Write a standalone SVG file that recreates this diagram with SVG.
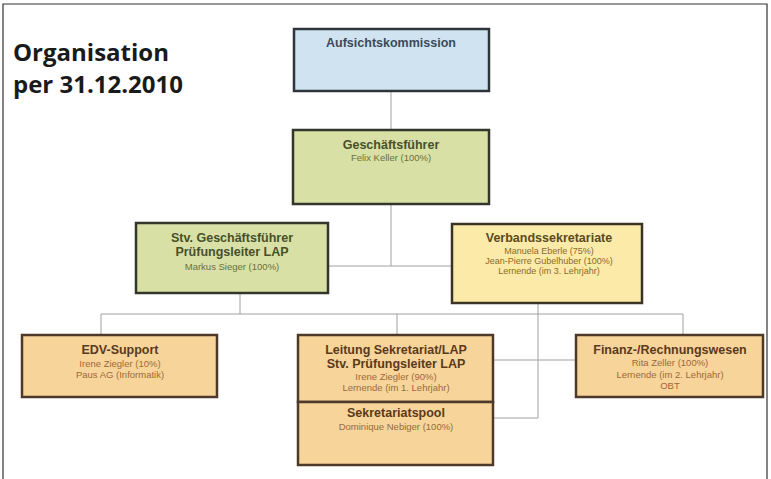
<svg xmlns="http://www.w3.org/2000/svg" width="771" height="479" viewBox="0 0 771 479">
<style>
.frame{fill:none;stroke:#333;stroke-width:1.2}
.ttl{font-family:"Open Sans","Noto Sans",sans-serif;font-weight:bold;font-size:24px;fill:#1a1a1a}
.box{stroke-width:2.5}
.blue{fill:#d0e3f1;stroke:#2e3438}
.green{fill:#d8e0a6;stroke:#33362a}
.yellow{fill:#fbeaa8;stroke:#3a3424}
.orange{fill:#f7d49a;stroke:#4e3a28}
.h{font-family:"Liberation Sans",Arial,sans-serif;font-weight:bold;font-size:12.5px;text-anchor:middle}
.s{font-family:"Liberation Sans",Arial,sans-serif;font-size:9.5px;text-anchor:middle}
.s9{font-size:9px}
.hb{fill:#3c4a5a}
.hg{fill:#47502a}
.sg{fill:#6a7040}
.hy{fill:#5a4a1e}
.sy{fill:#8a6a2a}
.ho{fill:#5a3a1c}
.so{fill:#9a6a3a}
.conn line,.conn polyline{stroke:#a0a0a0;stroke-width:1;fill:none}
</style>
<path class="frame" d="M3,479 V4 H767 V479"/>
<g id="title">
<text class="ttl" x="13" y="61">Organisation</text>
<text class="ttl" x="13" y="93">per 31.12.2010</text>
</g>
<g class="conn" id="connectors">
<line x1="391" y1="91" x2="391" y2="130"/>
<line x1="391" y1="204" x2="391" y2="266"/>
<line x1="328" y1="266" x2="452" y2="266"/>
<line x1="240" y1="293" x2="240" y2="314"/>
<line x1="101" y1="314" x2="683" y2="314"/>
<line x1="101" y1="314" x2="101" y2="335"/>
<line x1="397" y1="314" x2="397" y2="335"/>
<line x1="683" y1="314" x2="683" y2="335"/>
<polyline points="538,303 538,418 493,418"/>
<line x1="493" y1="360" x2="576" y2="360"/>
</g>
<g id="aufsicht">
<rect class="box blue" x="294" y="29" width="195" height="62"/>
<text class="h hb" x="391" y="47">Aufsichtskommission</text>
</g>
<g id="gf">
<rect class="box green" x="293" y="130" width="196" height="74"/>
<text class="h hg" x="391" y="149">Geschäftsführer</text>
<text class="s sg" x="391" y="161">Felix Keller (100%)</text>
</g>
<g id="stv">
<rect class="box green" x="136" y="223" width="192" height="70"/>
<text class="h hg" x="232" y="242">Stv. Geschäftsführer</text>
<text class="h hg" x="232" y="256">Prüfungsleiter LAP</text>
<text class="s sg" x="232" y="270">Markus Sieger (100%)</text>
</g>
<g id="verband">
<rect class="box yellow" x="452" y="224" width="190" height="79"/>
<text class="h hy" x="549" y="242">Verbandssekretariate</text>
<text class="s s9 sy" x="549" y="254">Manuela Eberle (75%)</text>
<text class="s s9 sy" x="549" y="264">Jean-Pierre Gubelhuber (100%)</text>
<text class="s s9 sy" x="549" y="274">Lernende (im 3. Lehrjahr)</text>
</g>
<g id="edv">
<rect class="box orange" x="22" y="335" width="195" height="62"/>
<text class="h ho" x="120" y="354">EDV-Support</text>
<text class="s so" x="120" y="367">Irene Ziegler (10%)</text>
<text class="s so" x="120" y="378">Paus AG (Informatik)</text>
</g>
<g id="leitung">
<rect class="box orange" x="298" y="335" width="195" height="67"/>
<text class="h ho" x="396" y="354">Leitung Sekretariat/LAP</text>
<text class="h ho" x="396" y="368">Stv. Prüfungsleiter LAP</text>
<text class="s so" x="396" y="380">Irene Ziegler (90%)</text>
<text class="s so" x="396" y="391">Lernende (im 1. Lehrjahr)</text>
</g>
<g id="pool">
<rect class="box orange" x="298" y="402" width="195" height="63"/>
<text class="h ho" x="396" y="417">Sekretariatspool</text>
<text class="s so" x="396" y="430">Dominique Nebiger (100%)</text>
</g>
<g id="finanz">
<rect class="box orange" x="576" y="335" width="187" height="62"/>
<text class="h ho" x="670" y="354">Finanz-/Rechnungswesen</text>
<text class="s so" x="670" y="366">Rita Zeller (100%)</text>
<text class="s so" x="670" y="378">Lernende (im 2. Lehrjahr)</text>
<text class="s so" x="670" y="389">OBT</text>
</g>
</svg>
